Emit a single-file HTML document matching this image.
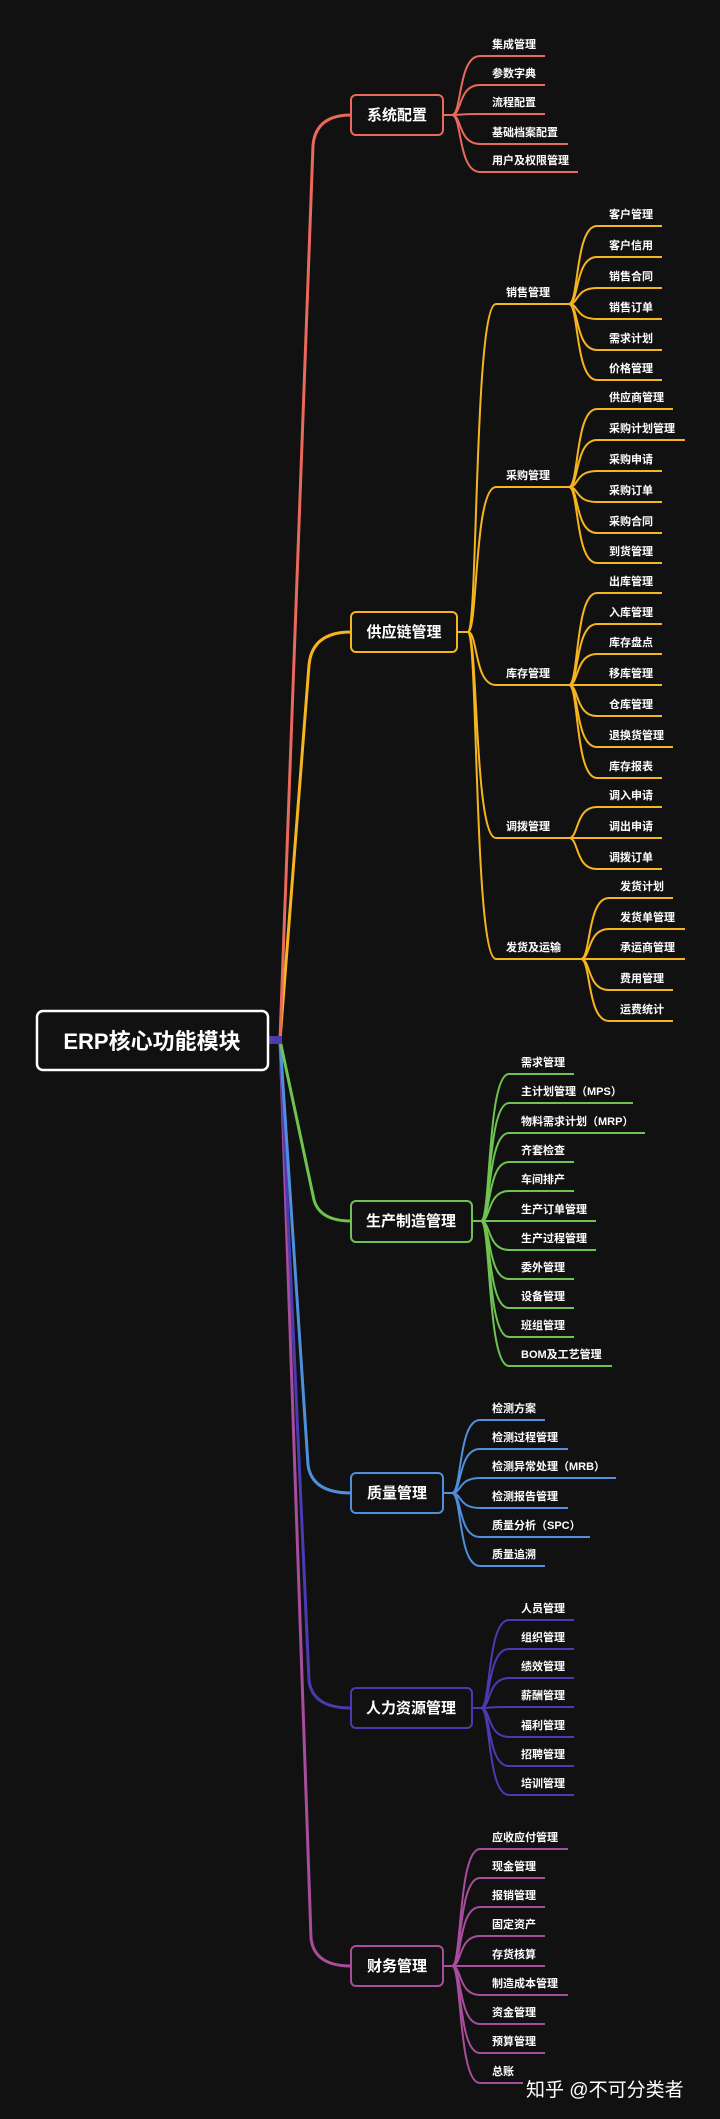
<!DOCTYPE html>
<html><head><meta charset="utf-8"><style>
html,body{margin:0;padding:0;background:#111111;}
svg{display:block}
text{font-family:"Liberation Sans","Noto Sans CJK SC",sans-serif;fill:#fff;font-weight:bold}
.l{font-size:11px}
.b{font-size:15px;text-anchor:middle}
path{fill:none}
</style></head><body>
<svg width="720" height="2119" viewBox="0 0 720 2119" xmlns="http://www.w3.org/2000/svg">
<rect width="720" height="2119" fill="#111111"/>
<!-- trunks -->
<g stroke-width="3">
<path stroke="#a84c9c" d="M280 1040 L311 1938 Q314 1966 351 1966"/>
<path stroke="#4b3bb0" d="M280 1040 L309 1680 Q312 1708 351 1708"/>
<path stroke="#4f8fdc" d="M280 1040 L308 1465 Q312 1493 351 1493"/>
<path stroke="#6fc450" d="M280 1040 L314 1200 Q320 1221 351 1221"/>
<path stroke="#f6b51e" d="M280 1040 L309 665 Q312 632 351 632"/>
<path stroke="#e9695c" d="M280 1040 L313 145 Q316 115 351 115"/>
</g>
<rect x="268" y="1036" width="14" height="8" fill="#4b3bb0"/>
<!-- root -->
<rect x="37" y="1011" width="231" height="59" rx="6" fill="#111" stroke="#fff" stroke-width="2.5"/>
<text x="152" y="1049" class="b" style="font-size:22px">ERP核心功能模块</text>

<!-- 系统配置 -->
<g stroke="#e9695c" stroke-width="2">
<path d="M443 115H452"/>
<path d="M452 115C462 115 458 56 480 56H545"/>
<path d="M452 115C462 115 458 85 480 85H545"/>
<path d="M452 115C462 115 458 114 480 114H545"/>
<path d="M452 115C462 115 458 144 480 144H568"/>
<path d="M452 115C462 115 458 172 480 172H578"/>
</g>
<rect x="351" y="95" width="92" height="40" rx="5" fill="#111" stroke="#e9695c" stroke-width="2"/>
<text x="397" y="120" class="b">系统配置</text>
<g class="l"><text x="492" y="48" class="l">集成管理</text><text x="492" y="77" class="l">参数字典</text><text x="492" y="106" class="l">流程配置</text><text x="492" y="136" class="l">基础档案配置</text><text x="492" y="164" class="l">用户及权限管理</text></g>

<!-- 供应链 -->
<g stroke="#f6b51e" stroke-width="2">
<path d="M457 632H468"/>
<path d="M468 632C478 632 474 304 496 304H569"/>
<path d="M468 632C478 632 474 487 496 487H569"/>
<path d="M468 632C478 632 474 685 496 685H569"/>
<path d="M468 632C478 632 474 838 496 838H569"/>
<path d="M468 632C478 632 474 959 496 959H581"/>
<path d="M569 304C579 304 575 226 597 226H662"/>
<path d="M569 304C579 304 575 257 597 257H662"/>
<path d="M569 304C579 304 575 288 597 288H662"/>
<path d="M569 304C579 304 575 319 597 319H662"/>
<path d="M569 304C579 304 575 350 597 350H662"/>
<path d="M569 304C579 304 575 380 597 380H662"/>
<path d="M569 487C579 487 575 409 597 409H673"/>
<path d="M569 487C579 487 575 440 597 440H685"/>
<path d="M569 487C579 487 575 471 597 471H662"/>
<path d="M569 487C579 487 575 502 597 502H662"/>
<path d="M569 487C579 487 575 533 597 533H662"/>
<path d="M569 487C579 487 575 563 597 563H662"/>
<path d="M569 685C579 685 575 593 597 593H662"/>
<path d="M569 685C579 685 575 624 597 624H662"/>
<path d="M569 685C579 685 575 654 597 654H662"/>
<path d="M569 685C579 685 575 685 597 685H662"/>
<path d="M569 685C579 685 575 716 597 716H662"/>
<path d="M569 685C579 685 575 747 597 747H673"/>
<path d="M569 685C579 685 575 778 597 778H662"/>
<path d="M569 838C579 838 575 807 597 807H662"/>
<path d="M569 838C579 838 575 838 597 838H662"/>
<path d="M569 838C579 838 575 869 597 869H662"/>
<path d="M581 959C591 959 587 898 609 898H673"/>
<path d="M581 959C591 959 587 929 609 929H685"/>
<path d="M581 959C591 959 587 959 609 959H685"/>
<path d="M581 959C591 959 587 990 609 990H673"/>
<path d="M581 959C591 959 587 1021 609 1021H673"/>
</g>
<rect x="351" y="612" width="106" height="40" rx="5" fill="#111" stroke="#f6b51e" stroke-width="2"/>
<text x="404" y="637" class="b">供应链管理</text>
<text x="506" y="296" class="l">销售管理</text><text x="506" y="479" class="l">采购管理</text><text x="506" y="677" class="l">库存管理</text><text x="506" y="830" class="l">调拨管理</text><text x="506" y="951" class="l">发货及运输</text>
<text x="609" y="218" class="l">客户管理</text><text x="609" y="249" class="l">客户信用</text><text x="609" y="280" class="l">销售合同</text><text x="609" y="311" class="l">销售订单</text><text x="609" y="342" class="l">需求计划</text><text x="609" y="372" class="l">价格管理</text>
<text x="609" y="401" class="l">供应商管理</text><text x="609" y="432" class="l">采购计划管理</text><text x="609" y="463" class="l">采购申请</text><text x="609" y="494" class="l">采购订单</text><text x="609" y="525" class="l">采购合同</text><text x="609" y="555" class="l">到货管理</text>
<text x="609" y="585" class="l">出库管理</text><text x="609" y="616" class="l">入库管理</text><text x="609" y="646" class="l">库存盘点</text><text x="609" y="677" class="l">移库管理</text><text x="609" y="708" class="l">仓库管理</text><text x="609" y="739" class="l">退换货管理</text><text x="609" y="770" class="l">库存报表</text>
<text x="609" y="799" class="l">调入申请</text><text x="609" y="830" class="l">调出申请</text><text x="609" y="861" class="l">调拨订单</text>
<text x="620" y="890" class="l">发货计划</text><text x="620" y="921" class="l">发货单管理</text><text x="620" y="951" class="l">承运商管理</text><text x="620" y="982" class="l">费用管理</text><text x="620" y="1013" class="l">运费统计</text>

<!-- 生产 -->
<g stroke="#6fc450" stroke-width="2">
<path d="M472 1221H481"/>
<path d="M481 1221C491 1221 487 1074 509 1074H574"/>
<path d="M481 1221C491 1221 487 1103 509 1103H633"/>
<path d="M481 1221C491 1221 487 1133 509 1133H645"/>
<path d="M481 1221C491 1221 487 1162 509 1162H574"/>
<path d="M481 1221C491 1221 487 1191 509 1191H574"/>
<path d="M481 1221C491 1221 487 1221 509 1221H596"/>
<path d="M481 1221C491 1221 487 1250 509 1250H596"/>
<path d="M481 1221C491 1221 487 1279 509 1279H574"/>
<path d="M481 1221C491 1221 487 1308 509 1308H574"/>
<path d="M481 1221C491 1221 487 1337 509 1337H574"/>
<path d="M481 1221C491 1221 487 1366 509 1366H612"/>
</g>
<rect x="351" y="1201" width="121" height="41" rx="5" fill="#111" stroke="#6fc450" stroke-width="2"/>
<text x="411" y="1226" class="b">生产制造管理</text>
<text x="521" y="1066" class="l">需求管理</text><text x="521" y="1095" class="l">主计划管理（MPS）</text><text x="521" y="1125" class="l">物料需求计划（MRP）</text><text x="521" y="1154" class="l">齐套检查</text><text x="521" y="1183" class="l">车间排产</text><text x="521" y="1213" class="l">生产订单管理</text><text x="521" y="1242" class="l">生产过程管理</text><text x="521" y="1271" class="l">委外管理</text><text x="521" y="1300" class="l">设备管理</text><text x="521" y="1329" class="l">班组管理</text><text x="521" y="1358" class="l">BOM及工艺管理</text>

<!-- 质量 -->
<g stroke="#4f8fdc" stroke-width="2">
<path d="M443 1493H452"/>
<path d="M452 1493C462 1493 458 1420 480 1420H545"/>
<path d="M452 1493C462 1493 458 1449 480 1449H568"/>
<path d="M452 1493C462 1493 458 1478 480 1478H616"/>
<path d="M452 1493C462 1493 458 1508 480 1508H568"/>
<path d="M452 1493C462 1493 458 1537 480 1537H590"/>
<path d="M452 1493C462 1493 458 1566 480 1566H545"/>
</g>
<rect x="351" y="1473" width="92" height="40" rx="5" fill="#111" stroke="#4f8fdc" stroke-width="2"/>
<text x="397" y="1498" class="b">质量管理</text>
<text x="492" y="1412" class="l">检测方案</text><text x="492" y="1441" class="l">检测过程管理</text><text x="492" y="1470" class="l">检测异常处理（MRB）</text><text x="492" y="1500" class="l">检测报告管理</text><text x="492" y="1529" class="l">质量分析（SPC）</text><text x="492" y="1558" class="l">质量追溯</text>

<!-- 人力 -->
<g stroke="#4b3bb0" stroke-width="2">
<path d="M472 1708H481"/>
<path d="M481 1708C491 1708 487 1620 509 1620H574"/>
<path d="M481 1708C491 1708 487 1649 509 1649H574"/>
<path d="M481 1708C491 1708 487 1678 509 1678H574"/>
<path d="M481 1708C491 1708 487 1707 509 1707H574"/>
<path d="M481 1708C491 1708 487 1737 509 1737H574"/>
<path d="M481 1708C491 1708 487 1766 509 1766H574"/>
<path d="M481 1708C491 1708 487 1795 509 1795H574"/>
</g>
<rect x="351" y="1688" width="121" height="40" rx="5" fill="#111" stroke="#4b3bb0" stroke-width="2"/>
<text x="411" y="1713" class="b">人力资源管理</text>
<text x="521" y="1612" class="l">人员管理</text><text x="521" y="1641" class="l">组织管理</text><text x="521" y="1670" class="l">绩效管理</text><text x="521" y="1699" class="l">薪酬管理</text><text x="521" y="1729" class="l">福利管理</text><text x="521" y="1758" class="l">招聘管理</text><text x="521" y="1787" class="l">培训管理</text>

<!-- 财务 -->
<g stroke="#a84c9c" stroke-width="2">
<path d="M443 1966H452"/>
<path d="M452 1966C462 1966 458 1849 480 1849H568"/>
<path d="M452 1966C462 1966 458 1878 480 1878H545"/>
<path d="M452 1966C462 1966 458 1907 480 1907H545"/>
<path d="M452 1966C462 1966 458 1936 480 1936H545"/>
<path d="M452 1966C462 1966 458 1966 480 1966H545"/>
<path d="M452 1966C462 1966 458 1995 480 1995H568"/>
<path d="M452 1966C462 1966 458 2024 480 2024H545"/>
<path d="M452 1966C462 1966 458 2053 480 2053H545"/>
<path d="M452 1966C462 1966 458 2083 480 2083H523"/>
</g>
<rect x="351" y="1946" width="92" height="40" rx="5" fill="#111" stroke="#a84c9c" stroke-width="2"/>
<text x="397" y="1971" class="b">财务管理</text>
<text x="492" y="1841" class="l">应收应付管理</text><text x="492" y="1870" class="l">现金管理</text><text x="492" y="1899" class="l">报销管理</text><text x="492" y="1928" class="l">固定资产</text><text x="492" y="1958" class="l">存货核算</text><text x="492" y="1987" class="l">制造成本管理</text><text x="492" y="2016" class="l">资金管理</text><text x="492" y="2045" class="l">预算管理</text><text x="492" y="2075" class="l">总账</text>

<text x="526" y="2096" style="font-size:19px;font-weight:normal">知乎 @不可分类者</text>
</svg>
</body></html>
